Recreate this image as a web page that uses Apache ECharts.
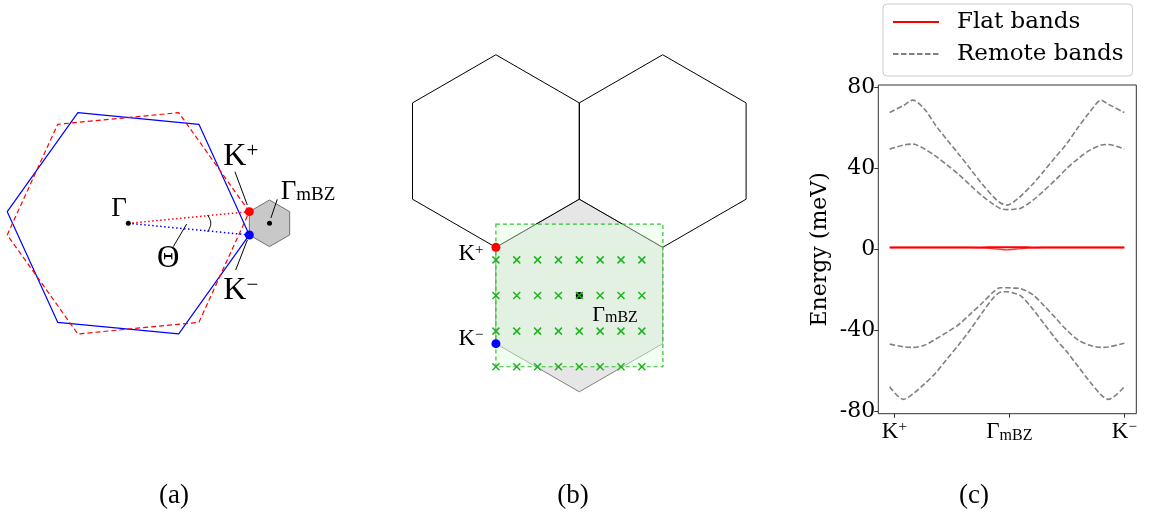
<!DOCTYPE html>
<html>
<head>
<meta charset="utf-8">
<script src="https://cdn.jsdelivr.net/npm/echarts@6/dist/echarts.min.js"></script>
<style>
html,body{margin:0;padding:0;background:#fff;}
#chart{width:1149px;height:520px;}
</style>
</head>
<body>
<div id="chart"></div>
<script>
// ---------------- Panel (c) data: band structure along K+ -> Gamma_mBZ -> K- ----------------
const kPath = [-0.02, 0.04, 0.08, 0.13, 0.18, 0.23, 0.28, 0.33, 0.38, 0.43, 0.46, 0.49, 0.52, 0.55, 0.60, 0.65, 0.70, 0.75, 0.80, 0.85, 0.90, 0.93, 1.0];
const flatBandA = [0.9, 0.9, 0.9, 0.9, 0.9, 0.9, 0.9, 0.9, 0.9, 1.0, 1.0, 1.0, 1.0, 1.0, 0.9, 0.9, 0.9, 0.9, 0.9, 0.9, 0.9, 0.9, 0.9];
const flatBandB = [0.9, 0.9, 0.9, 0.9, 0.9, 0.9, 0.9, 0.9, 0.7, 0.3, 0.0, -0.3, 0.0, 0.3, 0.7, 0.9, 0.9, 0.9, 0.9, 0.9, 0.9, 0.9, 0.9];
const remoteBandUpperOuter = [67.6, 71.1, 73.7, 69.5, 61.2, 54.0, 47.0, 39.8, 32.5, 26.0, 23.0, 21.8, 23.5, 26.3, 32.0, 38.6, 45.5, 52.3, 60.4, 67.9, 73.7, 71.7, 67.6];
const remoteBandUpperInner = [49.5, 51.5, 52.0, 49.7, 46.0, 41.6, 37.0, 31.7, 26.6, 22.3, 20.2, 19.6, 19.8, 20.3, 24.0, 28.9, 34.2, 40.0, 44.9, 49.0, 51.5, 51.8, 49.5];
const remoteBandLowerInner = [-46.9, -48.2, -48.5, -47.5, -44.4, -41.0, -37.2, -32.1, -26.8, -21.2, -19.0, -19.0, -19.2, -19.5, -22.3, -27.8, -33.9, -40.0, -44.9, -47.5, -48.5, -48.3, -46.5];
const remoteBandLowerOuter = [-68.0, -74.2, -71.6, -66.7, -61.1, -54.1, -47.2, -39.8, -31.7, -24.1, -21.3, -21.0, -21.7, -23.0, -29.3, -36.7, -44.1, -50.7, -58.1, -65.5, -72.1, -74.2, -68.0];
const kTickValues = [0, 0.5, 1];
const kTickLabels = ['{k|K}{sup|+}', '{k|Γ}{sub|mBZ}', '{k|K}{sup|−}'];
const energyTicks = [-80, -40, 0, 40, 80];

// ---------------- Panel (a) data: twisted Brillouin zones (units of BZ radius) ----------------
const bzLayerBlue = [[0.9954,-0.0958],[0.5807,0.8141],[-0.4147,0.9100],[-0.9954,0.0958],[-0.5807,-0.8141],[0.4147,-0.9100],[0.9954,-0.0958]];
const bzLayerRed  = [[0.9954,0.0958],[0.4147,0.9100],[-0.5807,0.8141],[-0.9954,-0.0958],[-0.4147,-0.9100],[0.5807,-0.8141],[0.9954,0.0958]];
const mbzSmall    = [[1.161,0.1917],[1.327,0.0958],[1.327,-0.0958],[1.161,-0.1917],[0.9954,-0.0958],[0.9954,0.0958],[1.161,0.1917]];
const aGamma = [0, 0];
const aKplus = [0.9954, 0.0958];
const aKminus = [0.9954, -0.0958];
const aGammaM = [1.161, 0];
const aAngleArc = [[0.650,0.068],[0.668,0.040],[0.678,0],[0.668,-0.040],[0.650,-0.069]];
const aLeaderKp = [[0.877,0.424],[0.979,0.150]];
const aLeaderKm = [[0.979,-0.137],[0.883,-0.384]];
const aLeaderGm = [[1.225,0.197],[1.173,0.044]];
const aLeaderTh = [[0.480,-0.006],[0.370,-0.192]];
const aLabels = [
  {pos:[-0.076,0.118], text:'{g|Γ}'},
  {pos:[0.329,-0.294], text:'{t|Θ}'},
  {pos:[0.925,0.545], text:'{K|K}{sup|+}'},
  {pos:[0.925,-0.557], text:'{K|K}{sup|−}'},
  {pos:[1.478,0.262], text:'{g|Γ}{sub|mBZ}'}
];

// ---------------- Panel (b) data: moiré BZ and k-mesh (units of mBZ radius) ----------------
const bHexLeft  = [[-0.866,2.5],[0,2],[0,1],[-0.866,0.5],[-1.732,1],[-1.732,2],[-0.866,2.5]];
const bHexRight = [[0.866,2.5],[1.732,2],[1.732,1],[0.866,0.5],[0,1],[0,2],[0.866,2.5]];
const bHexMain  = [[0,1],[0.866,0.5],[0.866,-0.5],[0,-1],[-0.866,-0.5],[-0.866,0.5],[0,1]];
const bMeshBox  = [[-0.866,0.742],[0.868,0.742],[0.868,-0.74],[-0.866,-0.74],[-0.866,0.742]];
const bMeshCols = [-0.866, -0.6495, -0.433, -0.2165, 0, 0.2165, 0.433, 0.6495];
const bMeshRows = [0.37, 0, -0.37, -0.74];
const bKplus = [-0.866, 0.5];
const bKminus = [-0.866, -0.5];
const bGammaM = [0, 0];
const bLabels = [
  {pos:[-1.125,0.431], text:'{K|K}{sup|+}'},
  {pos:[-1.125,-0.452], text:'{K|K}{sup|−}'},
  {pos:[0.371,-0.202], text:'{g|Γ}{sub|mBZ}'}
];

const panelTags = ['(a)', '(b)', '(c)'];

// ---------------- helpers ----------------
const CM = 'Liberation Serif';
const MPL = 'DejaVu Serif';
const pairs = (xs, ys) => xs.map((x, i) => [x, ys[i]]);

function outline(ax, pts, color, width, type, z) {
  return {type:'line', xAxisIndex:ax, yAxisIndex:ax, data:pts, symbol:'none', silent:true, z:z||2,
    lineStyle:{color:color, width:width, type:type||'solid'}};
}
function polygon(ax, pts, fill, stroke, width, dash, z) {
  return {type:'custom', xAxisIndex:ax, yAxisIndex:ax, data:[[pts[0][0], pts[0][1]]], silent:true, z:z||1,
    renderItem:function(params, api){
      return {type:'polygon', shape:{points: pts.map(p => api.coord(p))},
        style:{fill:fill, stroke:stroke, lineWidth:width, lineDash:dash||null}};
    }};
}
function dots(ax, pts, color, size, z) {
  return {type:'scatter', xAxisIndex:ax, yAxisIndex:ax, data:pts, symbol:'circle', symbolSize:size, silent:true, z:z||5,
    itemStyle:{color:color, opacity:1}};
}
function labels(ax, list, rich) {
  return {type:'scatter', xAxisIndex:ax, yAxisIndex:ax, silent:true, z:8, symbolSize:1,
    itemStyle:{color:'rgba(0,0,0,0)', opacity:1},
    data:list.map(l => ({value:l.pos, label:{show:true, position:'inside', color:'#000', opacity:1, formatter:l.text, rich:rich}}))};
}

const richA = {
  K:{fontFamily:CM, fontSize:32, color:'#000'},
  sup:{fontFamily:CM, fontSize:21, color:'#000', verticalAlign:'top'},
  g:{fontFamily:CM, fontSize:27, color:'#000'},
  t:{fontFamily:CM, fontSize:31, color:'#000'},
  sub:{fontFamily:CM, fontSize:19, color:'#000', verticalAlign:'bottom'}
};
const richB = {
  K:{fontFamily:CM, fontSize:23, color:'#000'},
  sup:{fontFamily:CM, fontSize:15, color:'#000', verticalAlign:'top'},
  g:{fontFamily:CM, fontSize:22, color:'#000'},
  sub:{fontFamily:CM, fontSize:16, color:'#000', verticalAlign:'bottom'}
};

const meshPts = [];
bMeshRows.forEach(r => bMeshCols.forEach(c => meshPts.push([c, r])));

const hiddenAxis = (min, max, gi) => ({type:'value', gridIndex:gi, min:min, max:max, show:false, splitLine:{show:false}});

const remoteStyle = {color:'#808080', width:1.6, type:[5.5,2.5]};
const series = [
  // panel (a)
  outline(0, bzLayerBlue, '#0000ff', 1.2, 'solid', 2),
  outline(0, bzLayerRed, '#ff0000', 1.2, [5,3], 3),
  polygon(0, mbzSmall, '#c8c8c8', '#707070', 1, null, 4),
  outline(0, [aGamma, aKplus], '#ff0000', 1.5, [1.5,2.5], 5),
  outline(0, [aGamma, aKminus], '#0000ff', 1.5, [1.5,2.5], 5),
  {type:'line', xAxisIndex:0, yAxisIndex:0, data:aAngleArc, symbol:'none', smooth:true, silent:true, z:5, lineStyle:{color:'#000', width:1}},
  outline(0, aLeaderKp, '#000', 1, 'solid', 5),
  outline(0, aLeaderKm, '#000', 1, 'solid', 5),
  outline(0, aLeaderGm, '#000', 1, 'solid', 5),
  outline(0, aLeaderTh, '#000', 1, 'solid', 5),
  dots(0, [aGamma, aGammaM], '#000', 5, 6),
  dots(0, [aKplus], '#ff0000', 9, 6),
  dots(0, [aKminus], '#0000ff', 9, 6),
  labels(0, aLabels, richA),
  // panel (b)
  polygon(1, bHexMain, '#e6e6e6', '#808080', 1, null, 1),
  outline(1, bHexLeft, '#000', 1, 'solid', 2),
  outline(1, bHexRight, '#000', 1, 'solid', 2),
  polygon(1, bMeshBox, 'rgba(225,255,225,0.45)', '#33c033', 1.2, [4,3], 3),
  dots(1, [bGammaM], '#000', 7, 4),
  {type:'scatter', xAxisIndex:1, yAxisIndex:1, data:meshPts, silent:true, z:5,
    symbol:'path://M0,0L10,10M10,0L0,10', symbolSize:7,
    itemStyle:{color:'rgba(0,0,0,0)', borderColor:'#1fb41f', borderWidth:1.5, opacity:1}},
  dots(1, [bKplus], '#ff0000', 9, 6),
  dots(1, [bKminus], '#0000ff', 9, 6),
  labels(1, bLabels, richB),
  // panel (c)
  {name:'Flat bands', type:'line', xAxisIndex:2, yAxisIndex:2, data:pairs(kPath, flatBandA), symbol:'none', smooth:0.3, silent:true, z:4,
    itemStyle:{color:'#ff0000'}, lineStyle:{color:'#ff0000', width:2}},
  {name:'Flat bands', type:'line', xAxisIndex:2, yAxisIndex:2, data:pairs(kPath, flatBandB), symbol:'none', smooth:0.3, silent:true, z:4,
    itemStyle:{color:'#ff0000'}, lineStyle:{color:'#ff0000', width:1.4, opacity:0.8}},
  {name:'Remote bands', type:'line', xAxisIndex:2, yAxisIndex:2, data:pairs(kPath, remoteBandLowerOuter), symbol:'none', smooth:0.3, silent:true, z:3,
    itemStyle:{color:'#808080'}, lineStyle:remoteStyle},
  {name:'Remote bands', type:'line', xAxisIndex:2, yAxisIndex:2, data:pairs(kPath, remoteBandLowerInner), symbol:'none', smooth:0.3, silent:true, z:3,
    itemStyle:{color:'#808080'}, lineStyle:remoteStyle},
  {name:'Remote bands', type:'line', xAxisIndex:2, yAxisIndex:2, data:pairs(kPath, remoteBandUpperInner), symbol:'none', smooth:0.3, silent:true, z:3,
    itemStyle:{color:'#808080'}, lineStyle:remoteStyle},
  {name:'Remote bands', type:'line', xAxisIndex:2, yAxisIndex:2, data:pairs(kPath, remoteBandUpperOuter), symbol:'none', smooth:0.3, silent:true, z:3,
    itemStyle:{color:'#808080'}, lineStyle:remoteStyle}
];

const option = {
  animation:false,
  backgroundColor:'#fff',
  grid:[
    {left:0, top:100, width:350, height:250},
    {left:400, top:40, width:360, height:360},
    {left:878.3, top:85, width:258, height:328.7, show:true, borderColor:'#333', borderWidth:1, backgroundColor:'transparent'}
  ],
  xAxis:[
    hiddenAxis(-1.0551, 1.8232, 0),
    hiddenAxis(-1.8619, 1.8764, 1),
    {type:'value', gridIndex:2, min:-0.0696, max:1.052, position:'bottom',
      axisLine:{show:false, onZero:false}, splitLine:{show:false},
      axisTick:{show:true, length:4, inside:false, customValues:kTickValues, lineStyle:{color:'#333', width:1}},
      axisLabel:{show:true, margin:6, customValues:kTickValues,
        formatter:function(v){ const i = kTickValues.indexOf(v); return i >= 0 ? kTickLabels[i] : ''; },
        rich:{
          k:{fontFamily:CM, fontSize:23, color:'#000', lineHeight:24},
          sup:{fontFamily:CM, fontSize:15, color:'#000', verticalAlign:'top', lineHeight:24},
          sub:{fontFamily:CM, fontSize:16, color:'#000', verticalAlign:'bottom', lineHeight:24}
        }}}
  ],
  yAxis:[
    hiddenAxis(-1.0419, 1.0140, 0),
    hiddenAxis(-1.0852, 2.6532, 1),
    {type:'value', gridIndex:2, min:-81.3, max:81.2, position:'left',
      name:'Energy (meV)', nameLocation:'middle', nameGap:47, nameRotate:90,
      nameTextStyle:{fontFamily:MPL, fontSize:22, color:'#000'},
      axisLine:{show:false, onZero:false}, splitLine:{show:false},
      axisTick:{show:true, length:4, customValues:energyTicks, lineStyle:{color:'#333', width:1}},
      axisLabel:{show:true, margin:3, customValues:energyTicks, fontFamily:MPL, fontSize:22, color:'#000',
        formatter:function(v){ return String(v); }}}
  ],
  legend:{
    show:true, orient:'vertical', left:883, top:4,
    data:['Flat bands', 'Remote bands'],
    itemWidth:46, itemHeight:14, itemGap:8,
    padding:[6, 9, 10, 9],
    borderColor:'#cccccc', borderWidth:1, borderRadius:4,
    backgroundColor:'rgba(255,255,255,0.8)',
    selectedMode:false,
    itemStyle:{opacity:0},
    textStyle:{fontFamily:MPL, fontSize:23, color:'#000', lineHeight:24, padding:[0,0,0,13]}
  },
  graphic:[
    {type:'text', x:174, y:496, style:{text:panelTags[0], font:'27px "Liberation Serif"', fill:'#000', textAlign:'center', textVerticalAlign:'middle'}},
    {type:'text', x:573, y:496, style:{text:panelTags[1], font:'27px "Liberation Serif"', fill:'#000', textAlign:'center', textVerticalAlign:'middle'}},
    {type:'text', x:974, y:496, style:{text:panelTags[2], font:'27px "Liberation Serif"', fill:'#000', textAlign:'center', textVerticalAlign:'middle'}}
  ],
  series:series
};

const chart = echarts.init(document.getElementById('chart'), null, {renderer:'canvas'});
chart.setOption(option);
</script>
</body>
</html>
